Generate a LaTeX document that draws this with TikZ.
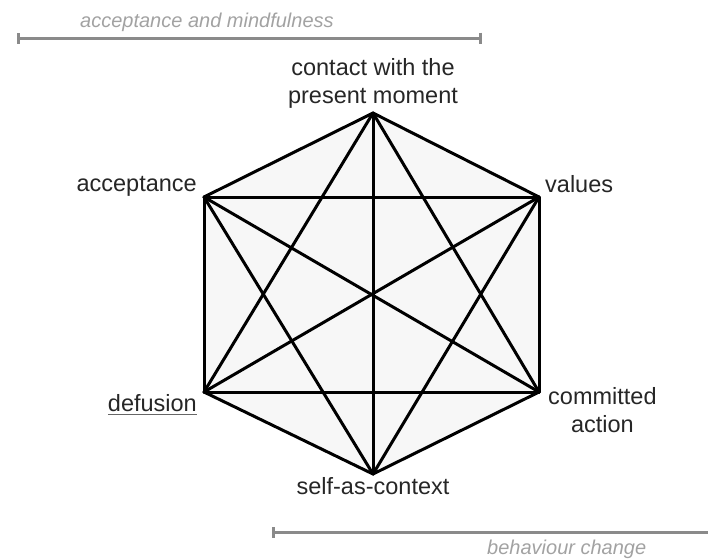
\documentclass[tikz,border=0pt]{standalone}
\usepackage{fontspec}
\setmainfont{Liberation Sans}
\usepackage{xcolor}
\usepackage{tikz}
\usetikzlibrary{
  arrows.meta,
  positioning,
  calc,
}

\definecolor{hexfill}{HTML}{F7F7F7}
\definecolor{spangray}{HTML}{8A8A8A}
\definecolor{notegray}{HTML}{A2A2A2}

\begin{document}
\begin{tikzpicture}[
  x=1pt, y=-1pt,
  every node/.style={align=center, inner sep=0pt},
  lbl/.style={font=\fontsize{23.5}{28}\selectfont, text=black!85},
  note/.style={font=\fontsize{20}{24}\selectfont\itshape, text=notegray},
  edge/.style={black, line width=3pt, line cap=round},
  span/.style={spangray, line width=3pt,
    {Bar[width=11pt,line width=3pt]}-{Bar[width=11pt,line width=3pt]}},
]
\useasboundingbox (0,0) rectangle (708,558);

% the six processes
\coordinate (cpm) at (373,113);
\coordinate (val) at (539,197);
\coordinate (com) at (539,392);
\coordinate (sac) at (373,474);
\coordinate (def) at (204,392);
\coordinate (acc) at (204,197);

\fill[hexfill] (cpm) -- (val) -- (com) -- (sac) -- (def) -- (acc) -- cycle;

% every process joined to every other
\foreach \a/\b in {cpm/val, cpm/com, cpm/sac, cpm/def, cpm/acc,
                   val/com, val/sac, val/def, val/acc,
                   com/sac, com/def, com/acc,
                   sac/def, sac/acc,
                   def/acc}
  \draw[edge] (\a) -- (\b);

\node[lbl, anchor=south] (cpmlbl) at (373,109) {contact with the\\present moment};
\node[lbl, anchor=base east] (acclbl) at (197,191) {acceptance};
\node[lbl, anchor=base west] (vallbl) at (545,192) {values};
\node[lbl, anchor=base east] (deflbl) at (197,411) {defusion};
\draw[black!60, line width=0.8pt]
  ($(deflbl.base west)+(0,3)$) -- ($(deflbl.base east)+(0,3)$);
\node[lbl, anchor=north west] (comlbl) at (548,387) {committed\\action};
\node[lbl, anchor=base] (saclbl) at (373,494) {self-as-context};

% the two spans
\coordinate (amleft) at (17,38);
\coordinate (amright) at (482,38);
\draw[span] (amleft) -- (amright);
\node[note, anchor=base west] (amnote) at (80,27) {acceptance and mindfulness};

\coordinate (bcleft) at (272,532);
\coordinate (bcright) at (720,532);
\draw[span] (bcleft) -- (bcright);
\node[note, anchor=base west] (bcnote) at (487,554) {behaviour change};

\end{tikzpicture}
\end{document}
